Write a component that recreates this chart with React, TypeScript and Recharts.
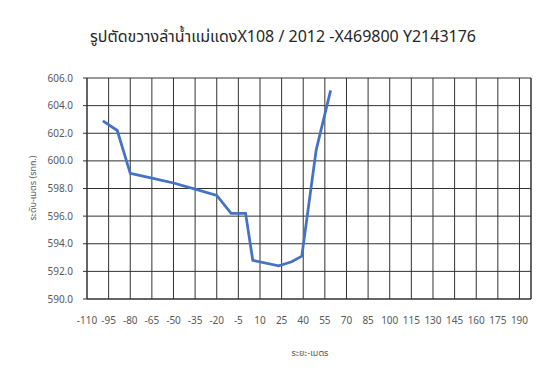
import React from 'react';
import { LineChart, Line, XAxis, YAxis, CartesianGrid, ReferenceLine } from 'recharts';

const distances = [-99, -89, -80, -65, -50, -35, -20, -10, 0, 5, 23, 32, 39, 49, 59];
const levels = [602.9, 602.2, 599.1, 598.75, 598.4, 597.95, 597.5, 596.2, 596.2, 592.8, 592.4, 592.7, 593.1, 600.8, 605.1];

const xTicks = [-110, -95, -80, -65, -50, -35, -20, -5, 10, 25, 40, 55, 70, 85, 100, 115, 130, 145, 160, 175, 190];
const yTicks = [590, 592, 594, 596, 598, 600, 602, 604, 606];

const title = 'รูปตัดขวางลำน้ำแม่แดงX108 / 2012 -X469800 Y2143176';
const xTitle = 'ระยะ-เมตร';
const yTitle = 'ระดับ-เมตร (รทก.)';

const FONT = '"Noto Sans", "Noto Sans Thai", Tahoma, "DejaVu Sans", sans-serif';

const data = distances.map((x, i) => ({ x, y: levels[i] }));

export default function App() {
  return (
    <div style={{ position: 'relative', width: 550, height: 388, margin: -8, background: '#fff', fontFamily: FONT }}>
      <div
        style={{
          position: 'absolute',
          left: 0,
          width: 566,
          top: 25,
          textAlign: 'center',
          fontSize: 16,
          color: '#262626',
          whiteSpace: 'nowrap',
        }}
      >
        {title}
      </div>
      <div
        style={{
          position: 'absolute',
          left: 33,
          top: 188,
          transform: 'translate(-50%, -50%) rotate(-90deg)',
          fontSize: 9,
          color: '#595959',
          whiteSpace: 'nowrap',
        }}
      >
        {yTitle}
      </div>
      <div
        style={{
          position: 'absolute',
          left: 310,
          top: 353,
          transform: 'translate(-50%, -50%)',
          fontSize: 9,
          color: '#595959',
          whiteSpace: 'nowrap',
        }}
      >
        {xTitle}
      </div>
      <div style={{ position: 'absolute', left: 0, top: 0 }}>
        <LineChart width={550} height={388} data={data} margin={{ top: 78, right: 19, left: 0, bottom: 0 }}>
          <CartesianGrid stroke="#333" strokeWidth={1} />
          <XAxis
            type="number"
            dataKey="x"
            domain={[-110, 198]}
            ticks={xTicks}
            interval={0}
            height={89}
            tickSize={0}
            tickMargin={18}
            axisLine={{ stroke: '#333' }}
            tick={{ fontSize: 10, fill: '#595959', fontFamily: FONT }}
            allowDataOverflow
          />
          <YAxis
            type="number"
            domain={[590, 606]}
            ticks={yTicks}
            interval={0}
            width={87}
            tickSize={4}
            tickMargin={10}
            tickLine={{ stroke: '#333' }}
            axisLine={{ stroke: '#333' }}
            tickFormatter={(v: number) => v.toFixed(1)}
            tick={{ fontSize: 10, fill: '#595959', fontFamily: FONT }}
          />
          <ReferenceLine x={198} stroke="#333" />
          <Line
            type="linear"
            dataKey="y"
            stroke="#4472C4"
            strokeWidth={2.75}
            dot={false}
            isAnimationActive={false}
          />
        </LineChart>
      </div>
      <div
        style={{
          position: 'absolute',
          left: 5,
          top: 4,
          width: 541,
          height: 382,
          outline: '2px solid #6e6e6e',
          outlineOffset: -2,
          pointerEvents: 'none',
          zIndex: 5,
        }}
      />
    </div>
  );
}
